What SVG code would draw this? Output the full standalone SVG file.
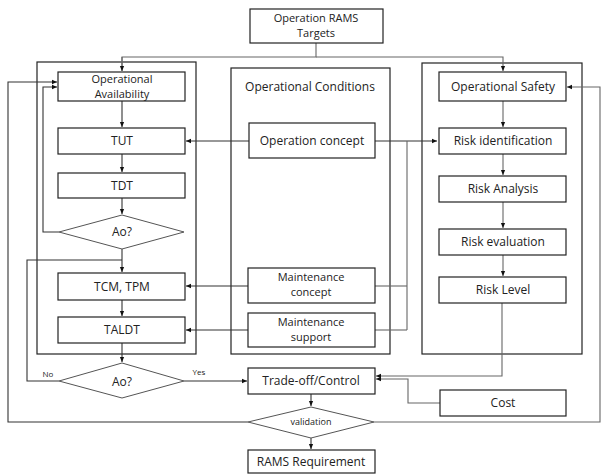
<svg xmlns="http://www.w3.org/2000/svg" width="601" height="475" viewBox="0 0 601 475">
<defs>
<marker id="ah" viewBox="0 0 8 8" refX="7" refY="4" markerWidth="6" markerHeight="6" orient="auto" markerUnits="userSpaceOnUse">
<path d="M0,1 L7,4 L0,7 z" fill="#111"/>
</marker>
</defs>
<style>
.box{fill:#fff;stroke:#222;stroke-width:1.2}
.cont{fill:none;stroke:#222;stroke-width:1.2}
.dia{fill:#fff;stroke:#555;stroke-width:1}
.ln{fill:none;stroke:#333;stroke-width:1.1}
.lg{fill:none;stroke:#666;stroke-width:1.1}
.t{font-family:"Open Sans","Noto Sans",sans-serif;font-size:12px;fill:#222;text-anchor:middle}
.t2{font-family:"Open Sans","Noto Sans",sans-serif;font-size:11px;fill:#222;text-anchor:middle}
.s{font-family:"Open Sans","Noto Sans",sans-serif;font-size:8px;fill:#222;text-anchor:middle}
</style>
<rect width="601" height="475" fill="#fff"/>
<g id="containers">
<rect class="cont" x="37" y="62" width="159" height="292"/>
<rect class="cont" x="231" y="68" width="159" height="286"/>
<rect class="cont" x="422" y="63" width="160" height="291"/>
</g>
<g id="connectors">
<path class="lg" d="M316,43 V57 H122 V71"/>
<path class="lg" d="M316,57 H503 V71" marker-end="url(#ah)"/>
<path class="lg" d="M122,57 V71" marker-end="url(#ah)"/>
<path class="ln" d="M122,101 V127" marker-end="url(#ah)"/>
<path class="ln" d="M122,154 V172" marker-end="url(#ah)"/>
<path class="ln" d="M122,198 V214" marker-end="url(#ah)"/>
<path class="ln" d="M59,232 H43 V87 H57" marker-end="url(#ah)"/>
<path class="ln" d="M122,249 V272" marker-end="url(#ah)"/>
<path class="ln" d="M122,300 V316" marker-end="url(#ah)"/>
<path class="ln" d="M122,343 V362" marker-end="url(#ah)"/>
<path class="ln" d="M59,381 H27 V260 H122"/>
<path class="ln" d="M184,381 H247" marker-end="url(#ah)"/>
<path class="ln" d="M249,141 H186" marker-end="url(#ah)"/>
<path class="ln" d="M375,141 H437" marker-end="url(#ah)"/>
<path class="lg" d="M407,141 V330"/>
<path class="lg" d="M375,286 H407"/>
<path class="lg" d="M375,330 H407"/>
<path class="ln" d="M248,286 H186" marker-end="url(#ah)"/>
<path class="ln" d="M248,330 H186" marker-end="url(#ah)"/>
<path class="lg" d="M503,101 V127" marker-end="url(#ah)"/>
<path class="lg" d="M503,154 V175" marker-end="url(#ah)"/>
<path class="lg" d="M503,202 V228" marker-end="url(#ah)"/>
<path class="lg" d="M503,255 V276" marker-end="url(#ah)"/>
<path class="lg" d="M502,303 V376 H376" marker-end="url(#ah)"/>
<path class="lg" d="M440,403 H408 V379 H376" marker-end="url(#ah)"/>
<path class="ln" d="M311,394 V406" marker-end="url(#ah)"/>
<path class="ln" d="M311,438 V449" marker-end="url(#ah)"/>
<path class="ln" d="M248,422 H8 V82 H57" marker-end="url(#ah)"/>
<path class="lg" d="M374,422 H600 V87 H567" marker-end="url(#ah)"/>
</g>
<g id="targets">
<rect class="box" x="250" y="9" width="133" height="34"/>
<text class="t2" x="316" y="22">Operation RAMS</text>
<text class="t2" x="316" y="37">Targets</text>
</g>
<g id="op-availability">
<rect class="box" x="58" y="72" width="127" height="29"/>
<text class="t2" x="122" y="83">Operational</text>
<text class="t2" x="122" y="98">Availability</text>
</g>
<g id="tut">
<rect class="box" x="58" y="128" width="127" height="26"/>
<text class="t" x="122" y="145">TUT</text>
</g>
<g id="tdt">
<rect class="box" x="58" y="173" width="127" height="25"/>
<text class="t" x="122" y="190">TDT</text>
</g>
<g id="ao1">
<polygon class="dia" points="122,215 184,232 122,249 59,232"/>
<text class="t" x="122" y="236">Ao?</text>
</g>
<g id="tcm">
<rect class="box" x="58" y="273" width="127" height="27"/>
<text class="t" x="122" y="291">TCM, TPM</text>
</g>
<g id="taldt">
<rect class="box" x="58" y="317" width="127" height="26"/>
<text class="t" x="122" y="334">TALDT</text>
</g>
<g id="ao2">
<polygon class="dia" points="122,363 184,381 122,398 59,381"/>
<text class="t" x="122" y="386">Ao?</text>
<text class="s" x="48" y="377">No</text>
<text class="s" x="199" y="375">Yes</text>
</g>
<g id="op-conditions">
<text class="t" x="310" y="91">Operational Conditions</text>
</g>
<g id="op-concept">
<rect class="box" x="249" y="123" width="126" height="35"/>
<text class="t" x="312" y="145">Operation concept</text>
</g>
<g id="maint-concept">
<rect class="box" x="248" y="268" width="127" height="35"/>
<text class="t2" x="311" y="281">Maintenance</text>
<text class="t2" x="311" y="296">concept</text>
</g>
<g id="maint-support">
<rect class="box" x="248" y="313" width="127" height="34"/>
<text class="t2" x="311" y="326">Maintenance</text>
<text class="t2" x="311" y="341">support</text>
</g>
<g id="op-safety">
<rect class="box" x="439" y="72" width="127" height="29"/>
<text class="t" x="503" y="91">Operational Safety</text>
</g>
<g id="risk-id">
<rect class="box" x="439" y="128" width="127" height="26"/>
<text class="t" x="503" y="145">Risk identification</text>
</g>
<g id="risk-analysis">
<rect class="box" x="439" y="176" width="127" height="26"/>
<text class="t" x="503" y="193">Risk Analysis</text>
</g>
<g id="risk-eval">
<rect class="box" x="439" y="229" width="127" height="26"/>
<text class="t" x="503" y="246">Risk evaluation</text>
</g>
<g id="risk-level">
<rect class="box" x="439" y="277" width="127" height="26"/>
<text class="t" x="503" y="294">Risk Level</text>
</g>
<g id="tradeoff">
<rect class="box" x="248" y="368" width="127" height="26"/>
<text class="t" x="311" y="385">Trade-off/Control</text>
</g>
<g id="cost">
<rect class="box" x="440" y="390" width="126" height="26"/>
<text class="t" x="503" y="407">Cost</text>
</g>
<g id="validation">
<polygon class="dia" points="311,407 374,422 311,438 248,422"/>
<text class="s" x="311" y="425" style="font-size:9px">validation</text>
</g>
<g id="rams-req">
<rect class="box" x="248" y="450" width="127" height="23"/>
<text class="t" x="311" y="466">RAMS Requirement</text>
</g>
</svg>
